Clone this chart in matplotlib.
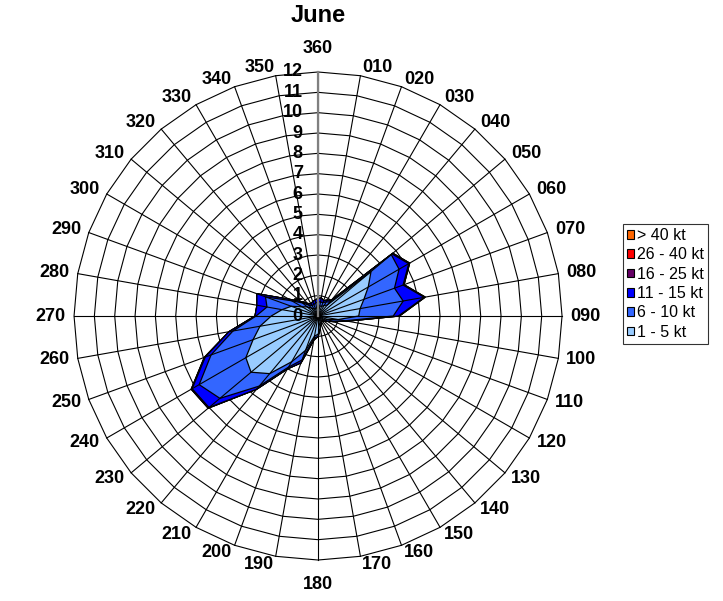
import numpy as np
import matplotlib.pyplot as plt
from matplotlib.patches import Patch

plt.rcParams['font.family'] = ['Liberation Sans', 'DejaVu Sans']

# Wind directions (degrees) and their labels
directions = [0, 10, 20, 30, 40, 50, 60, 70, 80, 90, 100, 110, 120, 130, 140, 150, 160, 170,
              180, 190, 200, 210, 220, 230, 240, 250, 260, 270, 280, 290, 300, 310, 320, 330, 340, 350]
dir_labels = ['360', '010', '020', '030', '040', '050', '060', '070', '080', '090', '100', '110',
              '120', '130', '140', '150', '160', '170', '180', '190', '200', '210', '220', '230',
              '240', '250', '260', '270', '280', '290', '300', '310', '320', '330', '340', '350']

# Frequency (%) for each speed class, per direction
kt_1_5 = [0.5, 0.5, 0.5, 0.6, 0.7, 3.4, 2.85, 2.4, 2.1, 2.0, 1.0, 0.5, 0.4, 0.3, 0.3, 0.3, 0.4, 0.6,
          0.9, 1.0, 1.8, 2.6, 3.7, 4.3, 4.1, 3.4, 2.9, 2.3, 1.8, 1.4, 0.9, 0.7, 0.5, 0.4, 0.4, 0.4]
kt_6_10 = [0.2, 0.2, 0.2, 0.2, 0.2, 1.3, 1.75, 1.6, 2.15, 1.7, 0.35, 0.25, 0.1, 0.1, 0.05, 0.0, 0.0, 0.0,
           0.1, 0.1, 0.5, 0.3, 0.8, 2.0, 2.65, 2.2, 1.35, 0.75, 0.75, 1.35, 0.6, 0.3, 0.2, 0.2, 0.2, 0.25]
kt_11_15 = [0.15, 0.2, 0.1, 0.1, 0.1, 0.05, 0.55, 0.45, 1.05, 0.25, 0.1, 0.05, 0.0, 0.0, 0.0, 0.0, 0.0, 0.0,
            0.0, 0.1, 0.15, 0.1, 0.2, 0.7, 0.4, 0.3, 0.2, 0.05, 0.5, 0.45, 0.15, 0.1, 0.1, 0.1, 0.15, 0.15]
kt_16_25 = [0.0, 0.0, 0.0, 0.0, 0.0, 0.05, 0.05, 0.05, 0.05, 0.05, 0.0, 0.0, 0.0, 0.0, 0.0, 0.0, 0.0, 0.0,
            0.0, 0.0, 0.0, 0.0, 0.0, 0.05, 0.05, 0.05, 0.0, 0.0, 0.0, 0.0, 0.0, 0.0, 0.0, 0.0, 0.0, 0.0]
kt_26_40 = [0.0] * 36
kt_over_40 = [0.0] * 36

classes = ['1 - 5 kt', '6 - 10 kt', '11 - 15 kt', '16 - 25 kt', '26 - 40 kt', '> 40 kt']
colors = ['#99CCFF', '#3366FF', '#0000FF', '#660066', '#FF0000', '#FF6600']
series = [kt_1_5, kt_6_10, kt_11_15, kt_16_25, kt_26_40, kt_over_40]

# stacked totals
cum = np.cumsum(np.array(series), axis=0)

fig = plt.figure(figsize=(7.23, 6.01), dpi=100)
ax = fig.add_axes([0.1024, 0.0682, 0.675, 0.812], projection='polar')
ax.set_theta_zero_location('N')
ax.set_theta_direction(-1)
ax.set_ylim(0, 12)
ax.grid(False)
ax.set_xticks([])
ax.set_yticks([])
ax.spines['polar'].set_visible(False)

theta = np.deg2rad(directions)
closed = np.append(theta, theta[0])

# polygon gridlines (behind the data)
for r in range(1, 13):
    ax.plot(closed, [r] * len(closed), color='black', lw=0.8, zorder=1, clip_on=False)

# stacked areas, largest first
for i in range(len(classes) - 1, -1, -1):
    vals = np.append(cum[i], cum[i][0])
    ax.fill(closed, vals, facecolor=colors[i], edgecolor='black', lw=0.9, zorder=2)

# spokes drawn over the fills
for t in theta:
    ax.plot([t, t], [0, 12], color='black', lw=0.8, zorder=4, clip_on=False)

# value axis
ax.plot([0, 0], [0, 12], color='#808080', lw=1.6, zorder=5, clip_on=False)
for v in range(13):
    ax.annotate(str(v), xy=(0, v), xytext=(-11, 0), textcoords='offset points',
                ha='right', va='center', fontsize=13, fontweight='bold', zorder=6)

# direction labels
for d, lab in zip(directions, dir_labels):
    t = np.deg2rad(d)
    if d in (0, 180):
        ax.text(t, 13.18, lab, ha='center', va='center', fontsize=13, fontweight='bold', clip_on=False)
    else:
        ha = 'left' if d < 180 else 'right'
        ax.text(t, 12.4, lab, ha=ha, va='center', fontsize=13, fontweight='bold', clip_on=False)

fig.text(318 / 723, 1 - 16 / 601, 'June', ha='center', va='center', fontsize=17, fontweight='bold')

handles = [Patch(facecolor=colors[i], edgecolor='black', lw=0.8) for i in range(len(classes) - 1, -1, -1)]
labels = [classes[i] for i in range(len(classes) - 1, -1, -1)]
leg = fig.legend(handles, labels, loc='upper left', bbox_to_anchor=(623 / 723, 1 - 224 / 601),
                 frameon=True, fontsize=11.5, handlelength=0.45, handleheight=0.45,
                 handletextpad=0.2, labelspacing=0.27, borderpad=0.25, fancybox=False,
                 edgecolor='black', borderaxespad=0)
leg.get_frame().set_linewidth(0.8)

fig.savefig('out.png', dpi=100)
